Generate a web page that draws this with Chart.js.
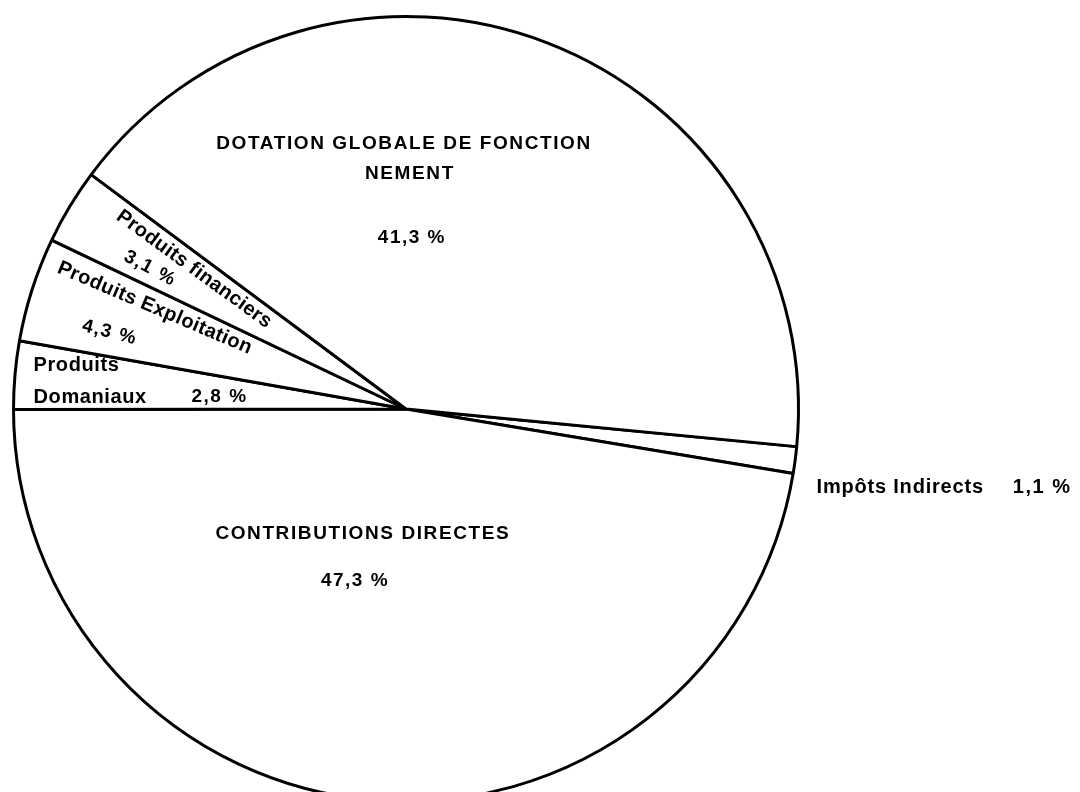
<!DOCTYPE html>
<html>
<head>
<meta charset="utf-8">
<script src="https://cdn.jsdelivr.net/npm/chart.js@4"></script>
<style>
html,body{margin:0;padding:0;background:#fff;overflow:hidden}
#wrap{width:1080px;height:804px;position:relative}
</style>
</head>
<body>
<div id="wrap"><canvas id="canvas"></canvas></div>
<script>
// recettes de fonctionnement, en %
var categories = ['Impôts Indirects', 'Contributions directes', 'Produits Domaniaux', 'Produits Exploitation', 'Produits financiers', 'Dotation globale de fonctionnement']
var valeurs = [1.1, 47.3, 2.8, 4.3, 3.1, 41.3]

function pct(i){
    return valeurs[i].toFixed(1).replace('.', ',') + ' %'
}

// textes places relativement au centre du camembert (en fraction du rayon)
var gras = 'bold 19px "Liberation Sans"'
var gras2 = 'bold 20px "Liberation Sans"'
var textes = [
    {t:'DOTATION GLOBALE DE FONCTION', x:-0.005, y:-0.675, font:gras, ls:1.6},
    {t:'NEMENT', x:0.01, y:-0.60, font:gras, ls:1.6},
    {t:pct(5), x:0.015, y:-0.436, font:gras, ls:1.5},
    {t:'CONTRIBUTIONS DIRECTES', x:-0.11, y:0.318, font:gras, ls:1.6},
    {t:pct(1), x:-0.13, y:0.437, font:gras, ls:1.5},
    {t:'Produits', x:-0.949, y:-0.112, font:gras2, align:'left', ls:0.6},
    {t:'Domaniaux', x:-0.949, y:-0.03, font:gras2, align:'left', ls:0.6},
    {t:pct(2), x:-0.475, y:-0.03, font:gras, ls:1.5},
    {t:'Produits Exploitation', x:-0.64, y:-0.257, font:gras2, rot:23, ls:0.4},
    {t:pct(3), x:-0.755, y:-0.195, font:gras, rot:14, ls:1.5},
    {t:'Produits financiers', x:-0.54, y:-0.356, font:gras2, rot:36, ls:0.3},
    {t:pct(4), x:-0.652, y:-0.358, font:gras, rot:28, ls:1.5},
    {t:'Impôts Indirects', x:1.046, y:0.2, font:gras2, align:'left', ls:0.8},
    {t:pct(0), x:1.546, y:0.2, font:gras2, align:'left', ls:1.5}
]

var etiquettes = {
    id:'etiquettes',
    afterDatasetsDraw(chart){
        var arc = chart.getDatasetMeta(0).data[0]
        var cx = arc.x, cy = arc.y, r = arc.outerRadius
        var ctx = chart.ctx
        textes.forEach(function(e){
            ctx.save()
            ctx.translate(cx + e.x*r, cy + e.y*r)
            ctx.rotate((e.rot || 0)*Math.PI/180)
            ctx.font = e.font
            ctx.fillStyle = '#000'
            ctx.textAlign = e.align || 'center'
            ctx.textBaseline = 'middle'
            ctx.letterSpacing = (e.ls || 0) + 'px'
            ctx.fillText(e.t, 0, 0)
            ctx.restore()
        })
    }
}

var chart = new Chart(canvas, {
    type: 'pie',
    data: {
        labels: categories,
        datasets: [{
            data: valeurs,
            backgroundColor: '#fff',
            borderColor: '#000',
            borderWidth: 3,
            hoverOffset: 0
        }]
    },
    options: {
        responsive: true,
        maintainAspectRatio: false,
        rotation: 95.5,
        animation: false,
        layout: {
            padding: {left: 12, right: 280, top: 15, bottom: 1}
        },
        plugins: {
            legend: {display: false},
            tooltip: {enabled: false},
            title: {display: false}
        }
    },
    plugins: [etiquettes]
})
</script>
</body>
</html>
